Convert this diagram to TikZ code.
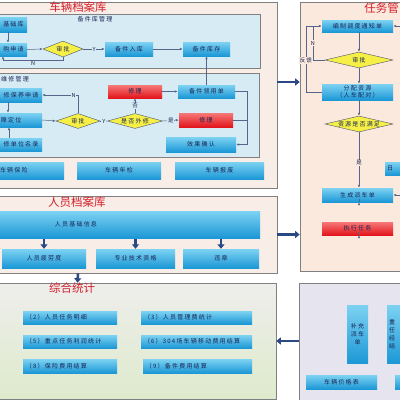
\documentclass[tikz,border=0pt]{standalone}
\usepackage{fontspec}
\newfontfamily\cjk[LetterSpace=20]{Noto Sans CJK SC}
\newfontfamily\cjkt{Noto Sans CJK SC}
\usetikzlibrary{arrows.meta,shapes.geometric,calc}
\definecolor{bxtop}{RGB}{125,210,242}
\definecolor{bxbot}{RGB}{28,152,214}
\definecolor{rdtop}{RGB}{246,120,120}
\definecolor{rdbot}{RGB}{226,22,28}
\definecolor{dia}{RGB}{246,240,70}
\definecolor{navy}{RGB}{24,36,84}
\definecolor{ttl}{RGB}{212,32,44}
\definecolor{peach}{RGB}{248,237,231}
\definecolor{subbg}{RGB}{214,235,243}
\definecolor{tpeach}{RGB}{251,233,222}
\definecolor{lav}{RGB}{230,228,238}
\definecolor{grtop}{RGB}{238,238,236}
\definecolor{grbot}{RGB}{222,234,204}
\definecolor{thk}{RGB}{42,72,132}
\definecolor{lnc}{RGB}{84,102,140}
\definecolor{frm}{RGB}{128,128,128}
\tikzset{
  bx/.style={rectangle, inner sep=0pt, top color=bxtop, bottom color=bxbot, text=navy, font=\cjk\fontsize{6}{8}\selectfont},
  rd/.style={bx, top color=rdtop, bottom color=rdbot},
  dm/.style={diamond, inner sep=0pt, fill=dia, draw=navy!80, line width=0.4pt, text=navy, font=\cjk\fontsize{6}{8}\selectfont},
  sbox/.style={bx, inner xsep=3pt, align=left, text width=#1},
  panel/.style={rectangle, draw=frm, line width=0.6pt, inner sep=0pt},
  ttlf/.style={text=ttl, font=\cjkt\fontsize{11.5}{13}\selectfont, inner sep=0pt},
  subt/.style={text=navy, font=\cjk\fontsize{6}{8}\selectfont, inner sep=0pt},
  cn/.style={draw=lnc, line width=0.5pt, -{Latex[length=3pt,width=2.4pt]}},
  ln/.style={draw=lnc, line width=0.5pt},
  lab/.style={text=navy, font=\cjk\fontsize{5.5}{6}\selectfont, inner sep=0.8pt},
  tk/.style={draw=thk, line width=2.6pt, -{Triangle[length=4.5pt,width=7pt]}},
}
\begin{document}
\begin{tikzpicture}[x=1pt,y=-1pt]
\useasboundingbox (0,0) rectangle (400,400);
\fill[white] (0,0) rectangle (400,400);

% ---------- panels ----------
\node[panel, fill=peach, minimum width=282, minimum height=186] (p1) at (136,95) {};
\node[panel, fill=subbg, line width=0.5pt, minimum width=265, minimum height=54] (s1) at (127.5,41) {};
\node[panel, fill=subbg, line width=0.5pt, minimum width=264, minimum height=84] (s2) at (127,115) {};
\node[panel, fill=peach, minimum width=282, minimum height=77] (p2) at (136,234.5) {};
\node[panel, top color=grtop, bottom color=grbot, minimum width=281, minimum height=116] (p3) at (135.5,341) {};
\node[panel, fill=tpeach, minimum width=110, minimum height=269] (tp) at (355,136.5) {};
\node[panel, fill=lav, minimum width=111, minimum height=122] (p4) at (354.5,344) {};

% ---------- titles ----------
\node[ttlf] (t1) at (78,7) {车辆档案库};
\node[subt] (t1a) at (95,19) {备件库管理};
\node[subt, anchor=west] (t1b) at (1,79) {维修管理};
\node[ttlf] (t2) at (77,202) {人员档案库};
\node[ttlf] (t3) at (72,288) {综合统计};
\node[ttlf, anchor=east] (t4) at (399,8) {任务管};

% ---------- 备件库管理 ----------
\node[bx, minimum width=27, minimum height=15] (jck) at (13.5,24.5) {基础库};
\node[bx, minimum width=27, minimum height=13] (cg) at (13.5,49.5) {购申请};
\node[dm, minimum width=40, minimum height=16] (sp1) at (63,49) {\makebox[0pt]{审批}};
\node[bx, minimum width=48, minimum height=14] (rk) at (129,49) {备件入库};
\node[bx, minimum width=47, minimum height=14] (kc) at (206.5,49) {备件库存};

% ---------- 维修管理 ----------
\node[bx, minimum width=42, minimum height=14] (by) at (21,95) {修保养申请};
\node[bx, minimum width=42, minimum height=14] (gz) at (21,120) {\makebox[42pt][l]{\hspace{1pt}障定位}};
\node[bx, minimum width=42, minimum height=13] (ml) at (21,144.5) {修单位名录};
\node[dm, minimum width=44, minimum height=15] (sp2) at (78,121) {\makebox[0pt]{审批}};
\node[dm, minimum width=55, minimum height=15] (wx) at (135,121) {\makebox[0pt]{是否外修}};
\node[rd, minimum width=54, minimum height=13] (xl1) at (135,91.5) {修理};
\node[bx, minimum width=57, minimum height=13] (ly) at (206.5,91.5) {备件领用单};
\node[rd, minimum width=54, minimum height=14] (xl2) at (206,120) {修理};
\node[bx, minimum width=70, minimum height=15] (qr) at (201,144.5) {效果确认};

\node[bx, minimum width=64, minimum height=17] (bxn) at (32,170.5) {\makebox[64pt][l]{车辆保险}};
\node[bx, minimum width=84, minimum height=17] (nj) at (119,170.5) {车辆年检};
\node[bx, minimum width=89, minimum height=17] (bf) at (219.5,170.5) {车辆报废};

% ---------- 人员档案库 ----------
\node[bx, minimum width=260, minimum height=27] (info) at (130,224.5) {\makebox[260pt][l]{\hspace{55pt}人员基础信息}};
\node[bx, minimum width=84, minimum height=19] (pl) at (44,258.5) {人员疲劳度};
\node[bx, minimum width=79, minimum height=19] (zy) at (135.5,258.5) {专业技术资格};
\node[bx, minimum width=76, minimum height=19] (wz) at (221,258.5) {违章};

% ---------- 综合统计 ----------
\node[sbox=88pt, minimum width=94, minimum height=13] (q2) at (70,317.5) {（2）人员任务明细};
\node[sbox=105pt, minimum width=111, minimum height=13] (q3) at (196.5,317.5) {（3）人员管理费统计};
\node[sbox=88pt, minimum width=94, minimum height=13] (q5) at (70,341.5) {（5）重点任务利润统计};
\node[sbox=105pt, minimum width=111, minimum height=13] (q6) at (196.5,341.5) {（6）304场车辆移动费用结算};
\node[sbox=88pt, minimum width=94, minimum height=14] (q8) at (70,366) {（8）保险费用结算};
\node[sbox=103pt, minimum width=109, minimum height=14] (q9) at (197.5,366) {（9）备件费用结算};

% ---------- 任务管理 ----------
\node[bx, minimum width=71, minimum height=12] (tz) at (357.5,26) {编制调度通知单};
\node[dm, minimum width=68, minimum height=16] (sp3) at (359,60) {\makebox[0pt]{审批}};
\node[bx, minimum width=71, minimum height=16, align=center, font=\cjk\fontsize{6}{7}\selectfont] (fp) at (357.5,92) {分配资源\\（人车配对）};
\node[dm, minimum width=68, minimum height=16] (zm) at (359,124) {\makebox[0pt]{资源是否满足}};
\node[bx, minimum width=20, minimum height=13] (ri) at (395,168.5) {\makebox[20pt][l]{\hspace{2pt}日}};
\node[bx, minimum width=71, minimum height=14] (pc) at (357.5,195) {生成派车单};
\node[rd, minimum width=71, minimum height=13] (zx) at (357.5,228.5) {执行任务};

% ---------- bottom right ----------
\node[bx, minimum width=21, minimum height=58, align=center] (bc) at (357.5,334) {补充\\派车\\单};
\node[bx, minimum width=23, minimum height=58, inner xsep=2pt, text width=19pt, align=left] (zr) at (398.5,334) {重\\任\\经\\结};
\node[bx, minimum width=71, minimum height=14] (jg) at (341.5,382) {车辆价格表};
\node[bx, minimum width=15, minimum height=14] (eb) at (402.5,382) {};

% ---------- connectors: 备件库管理 ----------
\draw[cn] ([xshift=-5.5pt]jck.south) -- ([xshift=-5.5pt]cg.north);
\draw[cn] (cg.east) -- (sp1.west);
\draw[cn] (sp1.east) -- node[lab, fill=subbg] {Y} (rk.west);
\draw[cn] (rk.east) -- (kc.west);
\draw[cn] (sp1.south) -- ++(0,3) -| node[lab, pos=0.25, below] {N} ([xshift=-10.5pt]cg.south);

% ---------- connectors: 维修管理 ----------
\draw[cn] (sp2.north) |- node[lab, pos=0.56, fill=subbg] {N} (by.east);
\draw[cn] ([xshift=-13pt]by.south) -- ([xshift=-13pt]gz.north);
\draw[cn] ([xshift=-12pt]ml.north) -- ([xshift=-12pt]gz.south);
\draw[cn] (gz.east) -- (sp2.west);
\draw[cn] (sp2.east) -- node[lab, fill=subbg] {Y} (wx.west);
\draw[cn] (wx.east) -- node[lab, fill=subbg] {是} (xl2.west);
\draw[cn] (wx.north) -- node[lab, fill=subbg] {否} (xl1.south);
\draw[cn] (xl1.east) -- (ly.west);
\draw[cn] (ly.north) -- (kc.south);
\coordinate (rj) at (247,91.5);
\draw[cn] (ly.east) -- (rj) |- (qr.east);
\draw[ln] (xl2.east) -- (xl2.east -| rj);

% ---------- 人员档案库 ----------
\draw[tk] (info.south -| pl.north) ++(0,1) -- (pl.north);
\draw[tk] (info.south -| zy.north) ++(0,1) -- (zy.north);
\draw[tk] (info.south -| wz.north) ++(0,1) -- (wz.north);

% ---------- 任务管理 ----------
\draw[cn] (tz.south -| sp3.north) -- (sp3.north);
\draw[cn] (sp3.south) -- (sp3.south |- fp.north);
\draw[cn] (fp.south -| zm.north) -- (zm.north);
\draw[cn] (zm.south) -- node[lab, fill=tpeach, pos=0.55] {是} (zm.south |- pc.north);
\draw[cn] (pc.south -| zm.south) -- (pc.south -| zm.south |- zx.north);
\draw[cn] (zx.south -| zm.south) -- (zx.south -| zm.south |- bc.north);
\draw[cn] (sp3.west) -- ++(-12,0) |- node[lab, pos=0.25, fill=tpeach] {N} (tz.west);
\draw[ln] (fp.west) -- ++(-16,0) |- node[lab, pos=0.24, fill=tpeach] {反馈} ([xshift=-9pt]tz.west);
\coordinate (rin1) at (403,26);
\coordinate (rin2) at (403,195);
\draw[cn] (rin1) -- (tz.east);
\draw[cn] (rin2) -- (pc.east);

% ---------- panel links ----------
\draw[tk] ([yshift=13pt]p1.east) -- ([yshift=13pt]p1.east -| tp.west);
\draw[tk] (p2.east) -- (p2.east -| tp.west);
\draw[tk] (p3.east -| p4.west) -- (p3.east);
\draw[tk] ([xshift=-58pt]p2.south) -- ([xshift=-58pt]p3.north);
\end{tikzpicture}
\end{document}
